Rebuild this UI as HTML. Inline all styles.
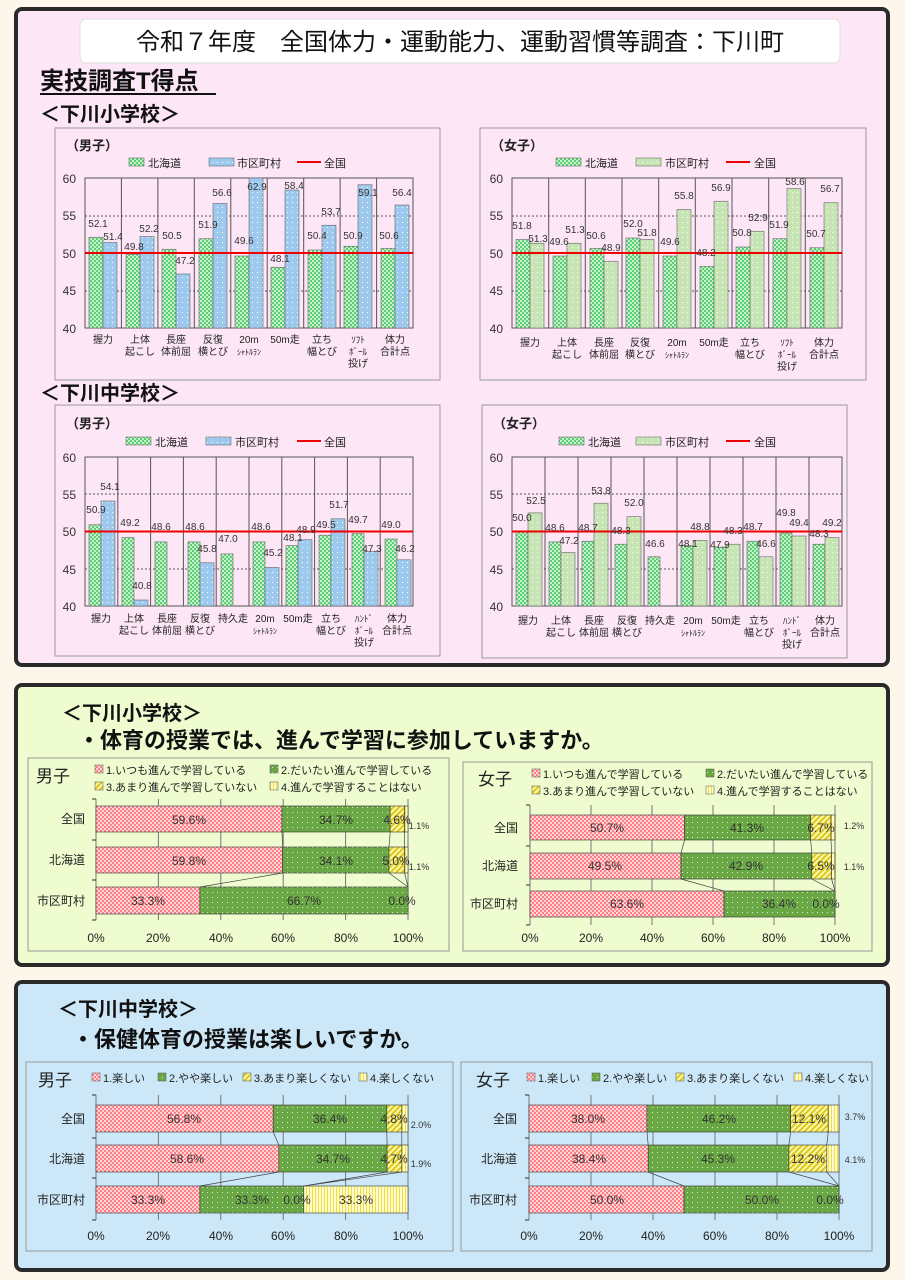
<!DOCTYPE html>
<html><head><meta charset="utf-8"><style>
html,body{margin:0;padding:0;background:#fdf6ea;}
svg{display:block;font-family:"Liberation Sans","Noto Sans CJK JP",sans-serif;}
</style></head><body>
<svg width="905" height="1280" viewBox="0 0 905 1280" xmlns="http://www.w3.org/2000/svg">
<defs>
<pattern id="pg" width="4" height="4" patternUnits="userSpaceOnUse"><rect width="4" height="4" fill="#5ccf72"/><rect width="2" height="2" fill="#c8f2cf"/><rect x="2" y="2" width="2" height="2" fill="#c8f2cf"/></pattern>
<pattern id="pb" width="5" height="5" patternUnits="userSpaceOnUse"><rect width="5" height="5" fill="#9ec9ee"/><rect x="2" y="2" width="1" height="1" fill="#fff"/></pattern>
<pattern id="pl" width="5" height="5" patternUnits="userSpaceOnUse"><rect width="5" height="5" fill="#c6e4b4"/><rect x="2" y="2" width="1" height="1" fill="#fff"/></pattern>
<pattern id="p1" width="4" height="4" patternUnits="userSpaceOnUse"><rect width="4" height="4" fill="#ff7f86"/><rect width="2" height="2" fill="#ffd6d8"/><rect x="2" y="2" width="2" height="2" fill="#ffd6d8"/></pattern>
<pattern id="p2" width="5" height="5" patternUnits="userSpaceOnUse"><rect width="5" height="5" fill="#6aa845"/><rect x="2" y="2" width="1" height="1" fill="#d8f0c8"/></pattern>
<pattern id="p3" width="4" height="4" patternUnits="userSpaceOnUse" patternTransform="rotate(45)"><rect width="4" height="4" fill="#fff7a8"/><rect width="2" height="4" fill="#d9c820"/></pattern>
<pattern id="p4" width="3" height="3" patternUnits="userSpaceOnUse"><rect width="3" height="3" fill="#fffbd0"/><rect width="1" height="3" fill="#f0e040"/></pattern>
</defs>

<!-- Panel 1 -->
<rect x="16" y="9" width="872" height="656" rx="6" fill="#fde6f6" stroke="#2a2a2a" stroke-width="4"/>
<rect x="80" y="19" width="760" height="44" rx="6" fill="#fff" stroke="#ddd"/>
<text x="460" y="50" font-size="24" text-anchor="middle" fill="#111">令和７年度　全国体力・運動能力、運動習慣等調査：下川町</text>
<text x="40" y="89" font-size="24" font-weight="bold" fill="#111">実技調査T得点</text>
<line x1="40" y1="94" x2="216" y2="94" stroke="#111" stroke-width="2"/>
<text x="40" y="121" font-size="20" font-weight="bold" fill="#111">＜下川小学校＞</text>
<text x="40" y="400" font-size="20" font-weight="bold" fill="#111">＜下川中学校＞</text>

<g font-size="12" fill="#222">
<!-- Elem boys box -->
<rect x="55" y="128" width="385" height="252" fill="#fde6f6" stroke="#999"/>
<text x="66" y="150" font-size="13" font-weight="bold">（男子）</text>
<rect x="129" y="158" width="15" height="8" fill="url(#pg)" stroke="#555" stroke-width=".5"/><text x="148" y="167" font-size="11">北海道</text>
<rect x="209" y="158" width="25" height="8" fill="url(#pb)" stroke="#555" stroke-width=".5"/><text x="237" y="167" font-size="11">市区町村</text>
<line x1="297" y1="162" x2="321" y2="162" stroke="#e00" stroke-width="2"/><text x="324" y="167" font-size="11">全国</text>
<!-- Elem girls box -->
<rect x="480" y="128" width="386" height="252" fill="#fde6f6" stroke="#999"/>
<text x="491" y="150" font-size="13" font-weight="bold">（女子）</text>
<rect x="556" y="158" width="25" height="8" fill="url(#pg)" stroke="#555" stroke-width=".5"/><text x="585" y="167" font-size="11">北海道</text>
<rect x="636" y="158" width="25" height="8" fill="url(#pl)" stroke="#555" stroke-width=".5"/><text x="665" y="167" font-size="11">市区町村</text>
<line x1="726" y1="162" x2="750" y2="162" stroke="#e00" stroke-width="2"/><text x="754" y="167" font-size="11">全国</text>
<!-- JHS boys box -->
<rect x="55" y="405" width="385" height="251" fill="#fde6f6" stroke="#999"/>
<text x="66" y="428" font-size="13" font-weight="bold">（男子）</text>
<rect x="126" y="437" width="25" height="8" fill="url(#pg)" stroke="#555" stroke-width=".5"/><text x="155" y="446" font-size="11">北海道</text>
<rect x="206" y="437" width="25" height="8" fill="url(#pb)" stroke="#555" stroke-width=".5"/><text x="235" y="446" font-size="11">市区町村</text>
<line x1="297" y1="441" x2="321" y2="441" stroke="#e00" stroke-width="2"/><text x="324" y="446" font-size="11">全国</text>
<!-- JHS girls box -->
<rect x="482" y="405" width="365" height="253" fill="#fde6f6" stroke="#999"/>
<text x="493" y="428" font-size="13" font-weight="bold">（女子）</text>
<rect x="559" y="437" width="25" height="8" fill="url(#pg)" stroke="#555" stroke-width=".5"/><text x="588" y="446" font-size="11">北海道</text>
<rect x="636" y="437" width="25" height="8" fill="url(#pl)" stroke="#555" stroke-width=".5"/><text x="665" y="446" font-size="11">市区町村</text>
<line x1="726" y1="441" x2="750" y2="441" stroke="#e00" stroke-width="2"/><text x="754" y="446" font-size="11">全国</text>
</g>

<!-- axes grids -->
<g stroke="#555" stroke-width="1" fill="none">
<!-- elem boys -->
<rect x="85" y="178" width="328" height="150"/>
<path d="M85 216H413M85 291H413" stroke-dasharray="2,2"/>
<path d="M121.4 178V328M157.9 178V328M194.3 178V328M230.8 178V328M267.2 178V328M303.7 178V328M340.1 178V328M376.6 178V328"/>
<!-- elem girls -->
<rect x="512" y="178" width="330" height="150"/>
<path d="M512 216H842M512 291H842" stroke-dasharray="2,2"/>
<path d="M548.7 178V328M585.3 178V328M622 178V328M658.7 178V328M695.3 178V328M732 178V328M768.7 178V328M805.3 178V328"/>
<!-- jhs boys -->
<rect x="85" y="457" width="328" height="149"/>
<path d="M85 494H413M85 569H413" stroke-dasharray="2,2"/>
<path d="M117.8 457V606M150.6 457V606M183.4 457V606M216.2 457V606M249 457V606M281.8 457V606M314.6 457V606M347.4 457V606M380.2 457V606"/>
<!-- jhs girls -->
<rect x="512" y="457" width="330" height="149"/>
<path d="M512 494H842M512 569H842" stroke-dasharray="2,2"/>
<path d="M545 457V606M578 457V606M611 457V606M644 457V606M677 457V606M710 457V606M743 457V606M776 457V606M809 457V606"/>
</g>

<g font-size="12" fill="#333" text-anchor="end">
<text x="76" y="183">60</text><text x="76" y="220">55</text><text x="76" y="258">50</text><text x="76" y="295">45</text><text x="76" y="333">40</text>
<text x="503" y="183">60</text><text x="503" y="220">55</text><text x="503" y="258">50</text><text x="503" y="295">45</text><text x="503" y="333">40</text>
<text x="76" y="462">60</text><text x="76" y="499">55</text><text x="76" y="536">50</text><text x="76" y="574">45</text><text x="76" y="611">40</text>
<text x="503" y="462">60</text><text x="503" y="499">55</text><text x="503" y="536">50</text><text x="503" y="574">45</text><text x="503" y="611">40</text>
</g>

<!-- Elem boys bars -->
<g fill="url(#pg)" stroke="#666" stroke-width=".6">
<rect x="89" y="237.25" width="14" height="90.75"/><rect x="126" y="254.5" width="14" height="73.5"/><rect x="162" y="249.25" width="14" height="78.75"/><rect x="199" y="238.75" width="14" height="89.25"/><rect x="235" y="256" width="14" height="72"/><rect x="271" y="267.25" width="14" height="60.75"/><rect x="308" y="250" width="14" height="78"/><rect x="344" y="246.25" width="14" height="81.75"/><rect x="381" y="248.5" width="14" height="79.5"/>
</g>
<g fill="url(#pb)" stroke="#666" stroke-width=".6">
<rect x="103" y="242.5" width="14" height="85.5"/><rect x="140" y="236.5" width="14" height="91.5"/><rect x="176" y="274" width="14" height="54"/><rect x="213" y="203.5" width="14" height="124.5"/><rect x="249" y="178" width="14" height="150"/><rect x="285" y="190" width="14" height="138"/><rect x="322" y="225.25" width="14" height="102.75"/><rect x="358" y="184.75" width="14" height="143.25"/><rect x="395" y="205" width="14" height="123"/>
</g>
<!-- Elem girls bars -->
<g fill="url(#pg)" stroke="#666" stroke-width=".6">
<rect x="516" y="239.5" width="14" height="88.5"/><rect x="553" y="256" width="14" height="72"/><rect x="590" y="248.5" width="14" height="79.5"/><rect x="626" y="238" width="14" height="90"/><rect x="663" y="256" width="14" height="72"/><rect x="700" y="266.5" width="14" height="61.5"/><rect x="736" y="247" width="14" height="81"/><rect x="773" y="238.75" width="14" height="89.25"/><rect x="810" y="247.75" width="14" height="80.25"/>
</g>
<g fill="url(#pl)" stroke="#666" stroke-width=".6">
<rect x="530" y="243.25" width="14" height="84.75"/><rect x="567" y="243.25" width="14" height="84.75"/><rect x="604" y="261.25" width="14" height="66.75"/><rect x="640" y="239.5" width="14" height="88.5"/><rect x="677" y="209.5" width="14" height="118.5"/><rect x="714" y="201.25" width="14" height="126.75"/><rect x="750" y="231.25" width="14" height="96.75"/><rect x="787" y="188.5" width="14" height="139.5"/><rect x="824" y="202.75" width="14" height="125.25"/>
</g>
<!-- JHS boys bars -->
<g fill="url(#pg)" stroke="#666" stroke-width=".6">
<rect x="89" y="524.8" width="12" height="81.2"/><rect x="122" y="537.5" width="12" height="68.5"/><rect x="155" y="541.9" width="12" height="64.1"/><rect x="188" y="541.9" width="12" height="64.1"/><rect x="221" y="553.9" width="12" height="52.1"/><rect x="253" y="541.9" width="12" height="64.1"/><rect x="286" y="545.7" width="12" height="60.3"/><rect x="319" y="535.2" width="12" height="70.8"/><rect x="352" y="533.7" width="12" height="72.3"/><rect x="385" y="539" width="12" height="67"/>
</g>
<g fill="url(#pb)" stroke="#666" stroke-width=".6">
<rect x="101" y="501" width="14" height="105"/><rect x="134" y="600" width="14" height="6"/><rect x="200" y="562.8" width="14" height="43.2"/><rect x="265" y="567.3" width="14" height="38.7"/><rect x="298" y="539.7" width="14" height="66.3"/><rect x="331" y="518.8" width="14" height="87.2"/><rect x="364" y="551.6" width="14" height="54.4"/><rect x="397" y="559.8" width="14" height="46.2"/>
</g>
<!-- JHS girls bars -->
<g fill="url(#pg)" stroke="#666" stroke-width=".6">
<rect x="516" y="531.5" width="12" height="74.5"/><rect x="549" y="541.9" width="12" height="64.1"/><rect x="582" y="541.2" width="12" height="64.8"/><rect x="615" y="544.2" width="12" height="61.8"/><rect x="648" y="556.8" width="12" height="49.2"/><rect x="681" y="545.7" width="12" height="60.3"/><rect x="714" y="547.1" width="12" height="58.9"/><rect x="747" y="541.2" width="12" height="64.8"/><rect x="780" y="533" width="12" height="73"/><rect x="813" y="544.2" width="12" height="61.8"/>
</g>
<g fill="url(#pl)" stroke="#666" stroke-width=".6">
<rect x="528" y="512.9" width="14" height="93.1"/><rect x="561" y="552.4" width="14" height="53.6"/><rect x="594" y="503.2" width="14" height="102.8"/><rect x="627" y="516.6" width="14" height="89.4"/><rect x="693" y="540.4" width="14" height="65.6"/><rect x="726" y="544.2" width="14" height="61.8"/><rect x="759" y="556.8" width="14" height="49.2"/><rect x="792" y="536" width="14" height="70"/><rect x="825" y="537.5" width="14" height="68.5"/>
</g>

<g stroke="#e00" stroke-width="2">
<line x1="85" y1="253" x2="413" y2="253"/><line x1="512" y1="253" x2="842" y2="253"/>
<line x1="85" y1="531.5" x2="413" y2="531.5"/><line x1="512" y1="531.5" x2="842" y2="531.5"/>
</g>

<!-- value labels -->
<g font-size="10" fill="#333" text-anchor="middle">
<text x="98" y="227">52.1</text><text x="113" y="240">51.4</text><text x="134" y="250">49.8</text><text x="149" y="232">52.2</text><text x="172" y="239">50.5</text><text x="185" y="264">47.2</text><text x="208" y="228">51.9</text><text x="222" y="196">56.6</text><text x="244" y="244">49.6</text><text x="257" y="190">62.9</text><text x="280" y="262">48.1</text><text x="294" y="189">58.4</text><text x="317" y="239">50.4</text><text x="331" y="215">53.7</text><text x="353" y="239">50.9</text><text x="368" y="196">59.1</text><text x="389" y="239">50.6</text><text x="402" y="196">56.4</text>

<text x="522" y="229">51.8</text><text x="538" y="242">51.3</text><text x="559" y="245">49.6</text><text x="575" y="233">51.3</text><text x="596" y="239">50.6</text><text x="611" y="251">48.9</text><text x="633" y="227">52.0</text><text x="647" y="236">51.8</text><text x="670" y="245">49.6</text><text x="684" y="199">55.8</text><text x="706" y="256">48.2</text><text x="721" y="191">56.9</text><text x="742" y="236">50.8</text><text x="758" y="221">52.9</text><text x="779" y="228">51.9</text><text x="795" y="185">58.6</text><text x="816" y="237">50.7</text><text x="830" y="192">56.7</text>

<text x="96" y="513">50.9</text><text x="110" y="490">54.1</text><text x="130" y="526">49.2</text><text x="142" y="589">40.8</text><text x="161" y="530">48.6</text><text x="195" y="530">48.6</text><text x="207" y="552">45.8</text><text x="228" y="542">47.0</text><text x="261" y="530">48.6</text><text x="273" y="556">45.2</text><text x="293" y="541">48.1</text><text x="306" y="533">48.9</text><text x="326" y="528">49.5</text><text x="339" y="508">51.7</text><text x="358" y="523">49.7</text><text x="372" y="552">47.3</text><text x="391" y="528">49.0</text><text x="405" y="552">46.2</text>

<text x="522" y="521">50.0</text><text x="536" y="504">52.5</text><text x="555" y="531">48.6</text><text x="569" y="544">47.2</text><text x="588" y="531">48.7</text><text x="601" y="494">53.8</text><text x="621" y="534">48.3</text><text x="634" y="506">52.0</text><text x="655" y="547">46.6</text><text x="688" y="547">48.1</text><text x="700" y="530">48.8</text><text x="720" y="548">47.9</text><text x="733" y="534">48.3</text><text x="753" y="530">48.7</text><text x="766" y="547">46.6</text><text x="786" y="516">49.8</text><text x="799" y="526">49.4</text><text x="819" y="537">48.3</text><text x="832" y="526">49.2</text>
</g>

<!-- category labels -->
<g font-size="10" fill="#222" text-anchor="middle">
<text x="103" y="343">握力</text>
<text x="140" y="343">上体</text><text x="140" y="355">起こし</text>
<text x="176" y="343">長座</text><text x="176" y="355">体前屈</text>
<text x="213" y="343">反復</text><text x="213" y="355">横とび</text>
<text x="249" y="343">20m</text><text x="249" y="355" font-size="8">ｼｬﾄﾙﾗﾝ</text>
<text x="285" y="343">50m走</text>
<text x="322" y="343">立ち</text><text x="322" y="355">幅とび</text>
<text x="358" y="343" font-size="9">ｿﾌﾄ</text><text x="358" y="355" font-size="9">ﾎﾞｰﾙ</text><text x="358" y="367">投げ</text>
<text x="395" y="343">体力</text><text x="395" y="355">合計点</text>

<text x="530" y="346">握力</text>
<text x="567" y="346">上体</text><text x="567" y="358">起こし</text>
<text x="604" y="346">長座</text><text x="604" y="358">体前屈</text>
<text x="640" y="346">反復</text><text x="640" y="358">横とび</text>
<text x="677" y="346">20m</text><text x="677" y="358" font-size="8">ｼｬﾄﾙﾗﾝ</text>
<text x="714" y="346">50m走</text>
<text x="750" y="346">立ち</text><text x="750" y="358">幅とび</text>
<text x="787" y="346" font-size="9">ｿﾌﾄ</text><text x="787" y="358" font-size="9">ﾎﾞｰﾙ</text><text x="787" y="370">投げ</text>
<text x="824" y="346">体力</text><text x="824" y="358">合計点</text>

<text x="101" y="622">握力</text>
<text x="134" y="622">上体</text><text x="134" y="634">起こし</text>
<text x="167" y="622">長座</text><text x="167" y="634">体前屈</text>
<text x="200" y="622">反復</text><text x="200" y="634">横とび</text>
<text x="233" y="622">持久走</text>
<text x="265" y="622">20m</text><text x="265" y="634" font-size="8">ｼｬﾄﾙﾗﾝ</text>
<text x="298" y="622">50m走</text>
<text x="331" y="622">立ち</text><text x="331" y="634">幅とび</text>
<text x="364" y="622" font-size="9">ﾊﾝﾄﾞ</text><text x="364" y="634" font-size="9">ﾎﾞｰﾙ</text><text x="364" y="646">投げ</text>
<text x="397" y="622">体力</text><text x="397" y="634">合計点</text>

<text x="528" y="624">握力</text>
<text x="561" y="624">上体</text><text x="561" y="636">起こし</text>
<text x="594" y="624">長座</text><text x="594" y="636">体前屈</text>
<text x="627" y="624">反復</text><text x="627" y="636">横とび</text>
<text x="660" y="624">持久走</text>
<text x="693" y="624">20m</text><text x="693" y="636" font-size="8">ｼｬﾄﾙﾗﾝ</text>
<text x="726" y="624">50m走</text>
<text x="759" y="624">立ち</text><text x="759" y="636">幅とび</text>
<text x="792" y="624" font-size="9">ﾊﾝﾄﾞ</text><text x="792" y="636" font-size="9">ﾎﾞｰﾙ</text><text x="792" y="648">投げ</text>
<text x="825" y="624">体力</text><text x="825" y="636">合計点</text>
</g>

<!-- Panel 2 -->
<rect x="16" y="685" width="872" height="280" rx="6" fill="#effccf" stroke="#2a2a2a" stroke-width="4"/>
<text x="62" y="720" font-size="20" font-weight="bold" fill="#111">＜下川小学校＞</text>
<text x="78" y="748" font-size="22" font-weight="bold" fill="#111">・体育の授業では、進んで学習に参加していますか。</text>

<rect x="28" y="758" width="421" height="193" fill="#effccf" stroke="#999"/>
<rect x="463" y="762" width="409" height="189" fill="#effccf" stroke="#999"/>
<!-- Panel 3 -->
<rect x="16" y="982" width="872" height="288" rx="6" fill="#cce8f8" stroke="#2a2a2a" stroke-width="4"/>
<text x="58" y="1016" font-size="20" font-weight="bold" fill="#111">＜下川中学校＞</text>
<text x="72" y="1047" font-size="22" font-weight="bold" fill="#111">・保健体育の授業は楽しいですか。</text>
<rect x="26" y="1062" width="427" height="189" fill="#cce8f8" stroke="#999"/>
<rect x="461" y="1062" width="411" height="189" fill="#cce8f8" stroke="#999"/>

<!-- legends stacked -->
<g font-size="11" fill="#222">
<text x="36" y="782" font-size="17">男子</text>
<rect x="95" y="765" width="8" height="8" fill="url(#p1)" stroke="#555" stroke-width=".5"/><text x="106" y="774">1.いつも進んで学習している</text>
<rect x="270" y="765" width="8" height="8" fill="url(#p2)" stroke="#555" stroke-width=".5"/><text x="281" y="774">2.だいたい進んで学習している</text>
<rect x="95" y="782" width="8" height="8" fill="url(#p3)" stroke="#555" stroke-width=".5"/><text x="106" y="791">3.あまり進んで学習していない</text>
<rect x="270" y="782" width="8" height="8" fill="url(#p4)" stroke="#555" stroke-width=".5"/><text x="281" y="791">4.進んで学習することはない</text>

<text x="478" y="785" font-size="17">女子</text>
<rect x="532" y="769" width="8" height="8" fill="url(#p1)" stroke="#555" stroke-width=".5"/><text x="543" y="778">1.いつも進んで学習している</text>
<rect x="706" y="769" width="8" height="8" fill="url(#p2)" stroke="#555" stroke-width=".5"/><text x="717" y="778">2.だいたい進んで学習している</text>
<rect x="532" y="786" width="8" height="8" fill="url(#p3)" stroke="#555" stroke-width=".5"/><text x="543" y="795">3.あまり進んで学習していない</text>
<rect x="706" y="786" width="8" height="8" fill="url(#p4)" stroke="#555" stroke-width=".5"/><text x="717" y="795">4.進んで学習することはない</text>

<text x="38" y="1086" font-size="17">男子</text>
<rect x="92" y="1073" width="8" height="8" fill="url(#p1)" stroke="#555" stroke-width=".5"/><text x="103" y="1082">1.楽しい</text>
<rect x="158" y="1073" width="8" height="8" fill="url(#p2)" stroke="#555" stroke-width=".5"/><text x="169" y="1082">2.やや楽しい</text>
<rect x="243" y="1073" width="8" height="8" fill="url(#p3)" stroke="#555" stroke-width=".5"/><text x="254" y="1082">3.あまり楽しくない</text>
<rect x="359" y="1073" width="8" height="8" fill="url(#p4)" stroke="#555" stroke-width=".5"/><text x="370" y="1082">4.楽しくない</text>

<text x="476" y="1086" font-size="17">女子</text>
<rect x="527" y="1073" width="8" height="8" fill="url(#p1)" stroke="#555" stroke-width=".5"/><text x="538" y="1082">1.楽しい</text>
<rect x="592" y="1073" width="8" height="8" fill="url(#p2)" stroke="#555" stroke-width=".5"/><text x="603" y="1082">2.やや楽しい</text>
<rect x="676" y="1073" width="8" height="8" fill="url(#p3)" stroke="#555" stroke-width=".5"/><text x="687" y="1082">3.あまり楽しくない</text>
<rect x="794" y="1073" width="8" height="8" fill="url(#p4)" stroke="#555" stroke-width=".5"/><text x="805" y="1082">4.楽しくない</text>
</g>

<!-- stacked grid lines -->
<g stroke="#333" stroke-width="1">
<path d="M96 799V920M158.4 799V920M220.8 799V920M283.2 799V920M345.6 799V920M408 799V920" stroke="#777"/>
<path d="M92 799H96M92 840H96M92 880H96M92 920H96"/>
<path d="M530 805V925M591 805V925M652 805V925M713 805V925M774 805V925M835 805V925" stroke="#777"/>
<path d="M526 805H530M526 846H530M526 885H530M526 925H530"/>
<path d="M96 1095V1220M158.4 1095V1220M220.8 1095V1220M283.2 1095V1220M345.6 1095V1220M408 1095V1220" stroke="#777"/>
<path d="M92 1095H96M92 1138H96M92 1178H96M92 1220H96"/>
<path d="M529 1095V1220M591 1095V1220M653 1095V1220M715 1095V1220M777 1095V1220M839 1095V1220" stroke="#777"/>
<path d="M525 1095H529M525 1138H529M525 1178H529M525 1220H529"/>
</g>

<!-- stacked bars -->
<g stroke="#333" stroke-width=".6">
<!-- elem boys -->
<rect x="96" y="806" width="186" height="26" fill="url(#p1)"/><rect x="282" y="806" width="108.2" height="26" fill="url(#p2)"/><rect x="390.2" y="806" width="14.4" height="26" fill="url(#p3)"/><rect x="404.6" y="806" width="3.4" height="26" fill="url(#p4)"/>
<rect x="96" y="847" width="186.6" height="26" fill="url(#p1)"/><rect x="282.6" y="847" width="106.4" height="26" fill="url(#p2)"/><rect x="389" y="847" width="15.6" height="26" fill="url(#p3)"/><rect x="404.6" y="847" width="3.4" height="26" fill="url(#p4)"/>
<rect x="96" y="887" width="103.9" height="27" fill="url(#p1)"/><rect x="199.9" y="887" width="208.1" height="27" fill="url(#p2)"/>
<!-- elem girls -->
<rect x="530" y="815" width="154.6" height="25" fill="url(#p1)"/><rect x="684.6" y="815" width="126" height="25" fill="url(#p2)"/><rect x="810.6" y="815" width="20.4" height="25" fill="url(#p3)"/><rect x="831" y="815" width="4" height="25" fill="url(#p4)"/>
<rect x="530" y="853" width="151" height="26" fill="url(#p1)"/><rect x="681" y="853" width="130.8" height="26" fill="url(#p2)"/><rect x="811.8" y="853" width="19.8" height="26" fill="url(#p3)"/><rect x="831.6" y="853" width="3.4" height="26" fill="url(#p4)"/>
<rect x="530" y="891" width="194" height="26" fill="url(#p1)"/><rect x="724" y="891" width="111" height="26" fill="url(#p2)"/>
<!-- jhs boys -->
<rect x="96" y="1105" width="177.2" height="27" fill="url(#p1)"/><rect x="273.2" y="1105" width="113.6" height="27" fill="url(#p2)"/><rect x="386.8" y="1105" width="15" height="27" fill="url(#p3)"/><rect x="401.8" y="1105" width="6.2" height="27" fill="url(#p4)"/>
<rect x="96" y="1145" width="182.8" height="27" fill="url(#p1)"/><rect x="278.8" y="1145" width="108.3" height="27" fill="url(#p2)"/><rect x="387.1" y="1145" width="14.7" height="27" fill="url(#p3)"/><rect x="401.8" y="1145" width="6.2" height="27" fill="url(#p4)"/>
<rect x="96" y="1186" width="103.9" height="27" fill="url(#p1)"/><rect x="199.9" y="1186" width="103.9" height="27" fill="url(#p2)"/><rect x="303.8" y="1186" width="104.2" height="27" fill="url(#p4)"/>
<!-- jhs girls -->
<rect x="529" y="1105" width="118" height="27" fill="url(#p1)"/><rect x="647" y="1105" width="143.6" height="27" fill="url(#p2)"/><rect x="790.6" y="1105" width="37.6" height="27" fill="url(#p3)"/><rect x="828.2" y="1105" width="10.8" height="27" fill="url(#p4)"/>
<rect x="529" y="1145" width="119.2" height="27" fill="url(#p1)"/><rect x="648.2" y="1145" width="140.7" height="27" fill="url(#p2)"/><rect x="788.9" y="1145" width="37.9" height="27" fill="url(#p3)"/><rect x="826.8" y="1145" width="12.2" height="27" fill="url(#p4)"/>
<rect x="529" y="1186" width="155" height="27" fill="url(#p1)"/><rect x="684" y="1186" width="155" height="27" fill="url(#p2)"/>
</g>
<!-- connector lines -->
<g stroke="#444" stroke-width=".7" fill="none">
<path d="M282 832L282.6 847M390.2 832L389 847M404.6 832L404.6 847M282.6 873L199.9 887M389 873L408 887M404.6 873L408 887"/>
<path d="M684.6 840L681 853M810.6 840L811.8 853M831 840L831.6 853M681 879L724 891M811.8 879L835 891M831.6 879L835 891"/>
<path d="M273.2 1132L278.8 1145M386.8 1132L387.1 1145M401.8 1132L401.8 1145M278.8 1172L199.9 1186M387.1 1172L303.8 1186M401.8 1172L303.8 1186"/>
<path d="M647 1132L648.2 1145M790.6 1132L788.9 1145M828.2 1132L826.8 1145M648.2 1172L684 1186M788.9 1172L839 1186M826.8 1172L839 1186"/>
</g>

<!-- stacked labels -->
<g font-size="12" fill="#333" text-anchor="middle">
<text x="189" y="824">59.6%</text><text x="336" y="824">34.7%</text><text x="397" y="824">4.6%</text><text x="419" y="829" font-size="9">1.1%</text>
<text x="189" y="865">59.8%</text><text x="336" y="865">34.1%</text><text x="396" y="865">5.0%</text><text x="419" y="870" font-size="9">1.1%</text>
<text x="148" y="905">33.3%</text><text x="304" y="905">66.7%</text><text x="402" y="905">0.0%</text>

<text x="607" y="832">50.7%</text><text x="747" y="832">41.3%</text><text x="821" y="832">6.7%</text><text x="854" y="829" font-size="9">1.2%</text>
<text x="605" y="870">49.5%</text><text x="746" y="870">42.9%</text><text x="821" y="870">6.5%</text><text x="854" y="870" font-size="9">1.1%</text>
<text x="627" y="908">63.6%</text><text x="779" y="908">36.4%</text><text x="826" y="908">0.0%</text>

<text x="184" y="1123">56.8%</text><text x="330" y="1123">36.4%</text><text x="394" y="1123">4.8%</text><text x="421" y="1128" font-size="9">2.0%</text>
<text x="187" y="1163">58.6%</text><text x="333" y="1163">34.7%</text><text x="394" y="1163">4.7%</text><text x="421" y="1167" font-size="9">1.9%</text>
<text x="148" y="1204">33.3%</text><text x="252" y="1204">33.3%</text><text x="297" y="1204">0.0%</text><text x="356" y="1204">33.3%</text>

<text x="588" y="1123">38.0%</text><text x="719" y="1123">46.2%</text><text x="809" y="1123">12.1%</text><text x="855" y="1120" font-size="9">3.7%</text>
<text x="589" y="1163">38.4%</text><text x="718" y="1163">45.3%</text><text x="808" y="1163">12.2%</text><text x="855" y="1163" font-size="9">4.1%</text>
<text x="607" y="1204">50.0%</text><text x="762" y="1204">50.0%</text><text x="830" y="1204">0.0%</text>
</g>

<!-- row & axis labels -->
<g font-size="12" fill="#222">
<g text-anchor="end">
<text x="85" y="823">全国</text><text x="85" y="864">北海道</text><text x="85" y="905">市区町村</text>
<text x="518" y="832">全国</text><text x="518" y="870">北海道</text><text x="518" y="908">市区町村</text>
<text x="85" y="1123">全国</text><text x="85" y="1163">北海道</text><text x="85" y="1204">市区町村</text>
<text x="517" y="1123">全国</text><text x="517" y="1163">北海道</text><text x="517" y="1204">市区町村</text>
</g>
<g text-anchor="middle">
<text x="96" y="942">0%</text><text x="158" y="942">20%</text><text x="221" y="942">40%</text><text x="283" y="942">60%</text><text x="346" y="942">80%</text><text x="408" y="942">100%</text>
<text x="530" y="942">0%</text><text x="591" y="942">20%</text><text x="652" y="942">40%</text><text x="713" y="942">60%</text><text x="774" y="942">80%</text><text x="835" y="942">100%</text>
<text x="96" y="1240">0%</text><text x="158" y="1240">20%</text><text x="221" y="1240">40%</text><text x="283" y="1240">60%</text><text x="346" y="1240">80%</text><text x="408" y="1240">100%</text>
<text x="529" y="1240">0%</text><text x="591" y="1240">20%</text><text x="653" y="1240">40%</text><text x="715" y="1240">60%</text><text x="777" y="1240">80%</text><text x="839" y="1240">100%</text>
</g>
</g>
</svg>
</body></html>
